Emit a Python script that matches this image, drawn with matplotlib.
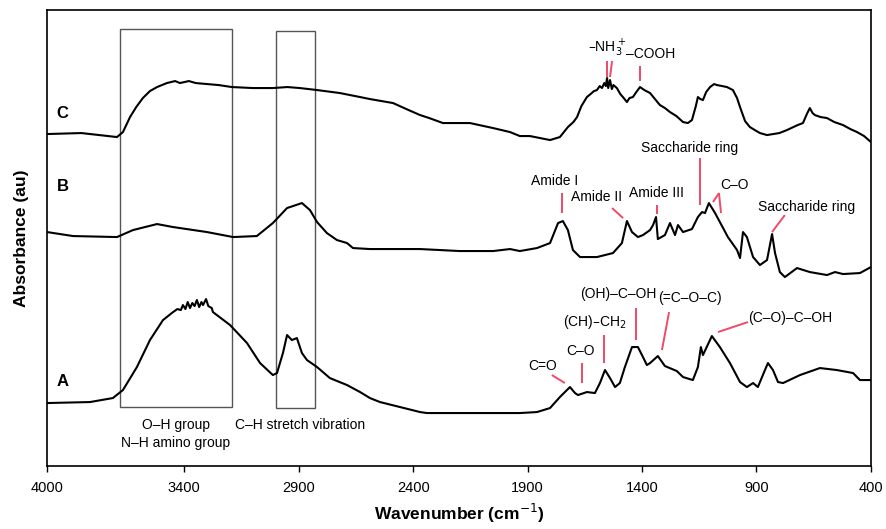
import matplotlib
matplotlib.use("Agg")
import matplotlib.pyplot as plt
from matplotlib.patches import Rectangle

plt.rcParams['font.family'] = ['Liberation Sans', 'DejaVu Sans']

# ---- data (wavenumber, absorbance in arbitrary offset units) ----
wn_C = [4000, 3850, 3694, 3668, 3637, 3610, 3581, 3550, 3519, 3476, 3440, 3419, 3380, 3350, 3301, 3250, 3192, 3100,
        3013, 2950, 2895, 2820, 2720, 2632, 2589, 2488, 2420, 2370, 2330, 2270, 2152, 2051, 1977, 1934, 1890,
        1802, 1759, 1724, 1700, 1684, 1665, 1641, 1625, 1610, 1597, 1585, 1575, 1565, 1558, 1553, 1548,
        1540, 1532, 1525, 1510, 1495, 1480, 1466, 1455, 1440, 1425, 1409, 1390, 1365, 1340, 1322, 1300,
        1278, 1250, 1221, 1200, 1182, 1165, 1156, 1145, 1134, 1120, 1103, 1085, 1073, 1050, 1029, 1003,
        985, 972, 950, 929, 900, 885, 854, 800, 767, 720, 697, 680, 667, 655, 645, 620, 592, 560, 522,
        490, 461, 430, 400]
ab_C = [332, 333, 329, 334, 349, 359, 368, 375, 379, 383, 385, 383, 385, 383, 382, 381, 379, 378,
        378, 379, 378, 376, 373, 369, 367, 363, 356, 351, 348, 343, 343, 338, 334, 330, 330,
        326, 329, 339, 344, 349, 360, 369, 372, 375, 376, 380, 378, 383, 380, 388, 378,
        386, 377, 381, 378, 372, 368, 364, 368, 369, 374, 379, 376, 373, 366, 361, 358,
        354, 350, 344, 343, 346, 360, 369, 367, 366, 374, 379, 382, 381, 380, 379, 376,
        368, 359, 345, 339, 335, 333, 331, 333, 336, 341, 343, 352, 358, 353, 351, 349, 348, 344, 341,
        337, 334, 330, 324]

wn_B = [4000, 3886, 3694, 3624, 3519, 3449, 3301, 3187, 3083, 3013, 2951, 2886, 2851, 2820, 2777, 2733,
        2689, 2663, 2589, 2488, 2370, 2196, 2051, 1977, 1934, 1859, 1802, 1767, 1746, 1724, 1702, 1671,
        1597, 1527, 1488, 1466, 1444, 1418, 1396, 1365, 1352, 1339, 1331, 1300, 1278, 1256, 1243, 1221,
        1182, 1156, 1138, 1125, 1108, 1081, 1060, 1025, 985, 972, 959, 942, 915, 885, 854, 832, 819,
        798, 776, 723, 667, 592, 557, 522, 448, 400]
ab_B = [234, 230, 229, 236, 242, 239, 234, 229, 230, 243, 258, 263, 256, 244, 233, 226,
        223, 218, 217, 217, 217, 215, 215, 217, 215, 218, 223, 243, 245, 236, 216, 209,
        209, 213, 223, 245, 234, 229, 231, 236, 241, 249, 227, 231, 243, 231, 241, 234,
        237, 249, 254, 253, 263, 253, 244, 229, 216, 208, 234, 229, 209, 201, 206, 232, 213,
        194, 189, 198, 194, 191, 194, 192, 193, 199]

wn_A = [4000, 3812, 3712, 3668, 3607, 3550, 3493, 3449, 3430, 3415, 3406, 3395, 3385, 3375, 3365, 3355,
        3345, 3335, 3325, 3318, 3305, 3295, 3280, 3275, 3200, 3126, 3069, 3013, 2995, 2969, 2951, 2930,
        2908, 2886, 2864, 2820, 2764, 2689, 2632, 2589, 2545, 2370, 2340, 2196, 1934, 1859, 1802, 1759,
        1715, 1693, 1680, 1641, 1606, 1584, 1562, 1540, 1518, 1497, 1475, 1444, 1418, 1396, 1379, 1365,
        1331, 1300, 1248, 1221, 1178, 1156, 1143, 1134, 1095, 1060, 1016, 972, 942, 915, 894, 863, 850,
        828, 806, 784, 710, 623, 549, 478, 448, 400]
ab_A = [63, 64, 68, 76, 99, 126, 146, 154, 157, 156, 161, 157, 164, 158, 163, 160,
        166, 159, 164, 161, 167, 160, 158, 154, 141, 123, 103, 91, 93, 113, 131, 126,
        128, 113, 106, 99, 88, 81, 74, 68, 64, 54, 53, 53, 53, 54, 58, 69,
        79, 73, 71, 74, 73, 83, 96, 88, 79, 83, 99, 119, 119, 109, 101, 103,
        110, 100, 95, 89, 86, 99, 119, 111, 130, 119, 103, 84, 79, 83, 79, 96, 103,
        96, 84, 83, 91, 98, 96, 93, 86, 86]

series_labels = ["C", "B", "A"]
xticks = [4000, 3400, 2900, 2400, 1900, 1400, 900, 400]

RED = '#ee4a6a'
BOXC = '#555555'

fig = plt.figure(figsize=(8.86, 5.29), dpi=100)
ax = fig.add_axes([0.053, 0.119, 0.930, 0.862])

for wn, ab in [(wn_C, ab_C), (wn_B, ab_B), (wn_A, ab_A)]:
    ax.plot(wn, ab, color='black', lw=1.5, solid_joinstyle='round')

ax.set_xlim(4000, 400)
ax.set_ylim(0, 456)
ax.set_xticks(xticks)
ax.set_xticklabels([str(t) for t in xticks], fontsize=10.5)
ax.set_yticks([])
ax.tick_params(axis='x', direction='out', length=4.5, width=1, pad=6)
for s in ax.spines.values():
    s.set_linewidth(1.2)

ax.set_xlabel('Wavenumber (cm$^{-1}$)', fontsize=12.5, fontweight='bold', labelpad=5)
ax.set_ylabel('Absorbance (au)', fontsize=12.5, fontweight='bold', labelpad=13)

# boxes
ax.add_patch(Rectangle((3681, 59), 3192 - 3681, 378, fill=False, ec=BOXC, lw=1.0))
ax.add_patch(Rectangle((3000, 58), 2829 - 3000, 377, fill=False, ec=BOXC, lw=1.0))
ax.text(3436, 41, 'O–H group', ha='center', va='center', fontsize=10)
ax.text(3436, 23, 'N–H amino group', ha='center', va='center', fontsize=10)
ax.text(2895, 41, 'C–H stretch vibration', ha='center', va='center', fontsize=10)

# series labels
for lab, yv in zip(series_labels, [353, 280, 85]):
    ax.text(3958, yv, lab, ha='left', va='center', fontsize=12, fontweight='bold')

def seg(x0, y0, x1, y1):
    ax.plot([x0, x1], [y0, y1], color=RED, lw=1.4, solid_capstyle='butt')

fs = 10
# C annotations
ax.text(1553, 418, '–NH$_3^+$', ha='center', va='center', fontsize=fs)
seg(1553, 405, 1553, 389)
seg(1531, 405, 1540, 389)
ax.text(1361, 412, '–COOH', ha='center', va='center', fontsize=fs)
seg(1409, 400, 1409, 385)

# B annotations
ax.text(1781, 285, 'Amide I', ha='center', va='center', fontsize=fs)
seg(1750, 273, 1750, 253)
ax.text(1597, 269, 'Amide II', ha='center', va='center', fontsize=fs)
seg(1531, 258, 1483, 248)
ax.text(1339, 273, 'Amide III', ha='center', va='center', fontsize=fs)
seg(1335, 261, 1335, 252)
ax.text(1191, 318, 'Saccharide ring', ha='center', va='center', fontsize=fs)
seg(1147, 308, 1147, 261)
ax.text(994, 281, 'C–O', ha='center', va='center', fontsize=fs)
seg(1064, 273, 1090, 264)
seg(1064, 273, 1055, 253)
ax.text(680, 259, 'Saccharide ring', ha='center', va='center', fontsize=fs)
seg(776, 251, 832, 234)

# A annotations
ax.text(1833, 100, 'C=O', ha='center', va='center', fontsize=fs)
seg(1794, 91, 1737, 83)
ax.text(1667, 115, 'C–O', ha='center', va='center', fontsize=fs)
seg(1663, 103, 1663, 83)
ax.text(1606, 144, '(CH)–CH$_2$', ha='center', va='center', fontsize=fs)
seg(1566, 131, 1566, 103)
ax.text(1505, 172, '(OH)–C–OH', ha='center', va='center', fontsize=fs)
seg(1427, 158, 1427, 126)
ax.text(1191, 168, '(=C–O–C)', ha='center', va='center', fontsize=fs)
seg(1282, 154, 1313, 116)
ax.text(754, 148, '(C–O)–C–OH', ha='center', va='center', fontsize=fs)
seg(937, 144, 1068, 134)

fig.savefig('out.png', dpi=100)
